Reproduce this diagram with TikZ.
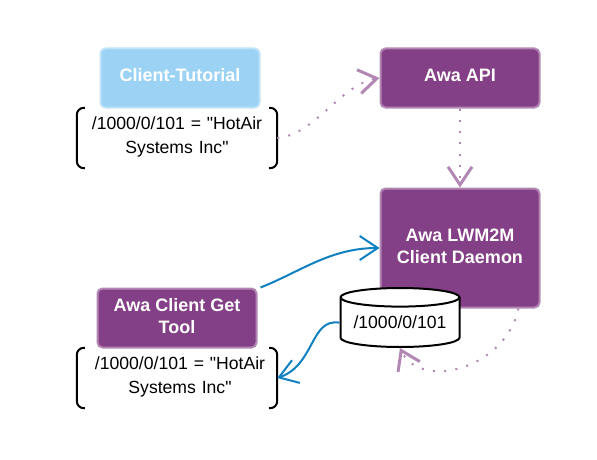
\documentclass[tikz,border=0pt]{standalone}
\usepackage{fontspec}
\setmainfont{Liberation Sans}[Ligatures=TeXOff]
\usetikzlibrary{arrows.meta,shapes.geometric}
\definecolor{awapurple}{HTML}{844086}
\definecolor{awaborder}{HTML}{B387B4}
\definecolor{tutblue}{HTML}{9CD2F4}
\definecolor{tutborder}{HTML}{BEE2F8}
\definecolor{linkblue}{HTML}{0F80C1}
\tikzset{
  x=1pt,y=-1pt,
  box/.style={rounded corners=5pt,line width=2pt,draw=awaborder,fill=awapurple,text=white,
    minimum width=159pt,align=center,font=\fontsize{18}{22}\selectfont\bfseries},
  oneline/.style={text height=13pt,text depth=6pt},
  twoline/.style={text height=35pt,text depth=4pt},
  tutbox/.style={box,draw=tutborder,fill=tutblue},
  note/.style={minimum width=200pt,minimum height=60pt,inner sep=0pt,align=center,text width=195pt,
    text height=13pt,text depth=30pt,font=\fontsize{17.6}{24}\selectfont},
  brk/.style={line width=2pt,black,rounded corners=7pt},
  dotlink/.style={draw=awaborder,line width=2pt,dash pattern=on 2pt off 9.3pt,
    -{Straight Barb[length=18pt,width=24pt,line width=3pt]}},
  bluelink/.style={draw=linkblue,line width=2pt,
    -{Straight Barb[length=18pt,width=24pt,line width=2pt]}},
  store/.style={draw=black,fill=white,line width=2pt,cylinder,shape border rotate=90,aspect=0.2,
    minimum width=119pt,minimum height=59pt,inner sep=0pt,font=\fontsize{17.6}{24}\selectfont},
}
\begin{document}
\begin{tikzpicture}
\useasboundingbox (0,0) rectangle (597,460);
\node[tutbox,oneline,minimum height=59pt] (tut) at (180,78) {Client-Tutorial};
\node[box,oneline,minimum height=59pt] (api) at (460,78) {Awa API};
\node[box,twoline,minimum height=119pt] (daemon) at (460,248) {Awa LWM2M\\Client Daemon};
\node[box,twoline,minimum height=59pt] (get) at (177,318) {Awa Client Get\\Tool};
\node[store,anchor=south] (db) at (400,348) {/1000/0/101};
\node[note] (n1) at (177,138) {/1000/0/101 = "HotAir\\Systems Inc"};
\node[note] (n2) at (177,378) {\hspace*{6pt}/1000/0/101 = "HotAir\\\hspace*{6pt}Systems Inc"};
\foreach \n in {n1,n2}{
  \draw[brk] ([xshift=8pt]\n.north west) -- (\n.north west) -- (\n.south west) -- ([xshift=8pt]\n.south west);
  \draw[brk] ([xshift=-8pt]\n.north east) -- (\n.north east) -- (\n.south east) -- ([xshift=-8pt]\n.south east);
}
\draw[dotlink] (n1.east) .. controls (315,135) and (340,85) .. (api.west);
\draw[dotlink] (api.south) -- (daemon.north);
\draw[dotlink] ([xshift=-22pt]daemon.south east) .. controls (505,370) and (420,390) .. (db.south);
\draw[bluelink] ([xshift=3pt]get.north east) .. controls (300,272) and (330,248) .. (daemon.west);
\draw[bluelink] (db.west) .. controls (310,318) and (315,365) .. (n2.east);
\end{tikzpicture}
\end{document}
